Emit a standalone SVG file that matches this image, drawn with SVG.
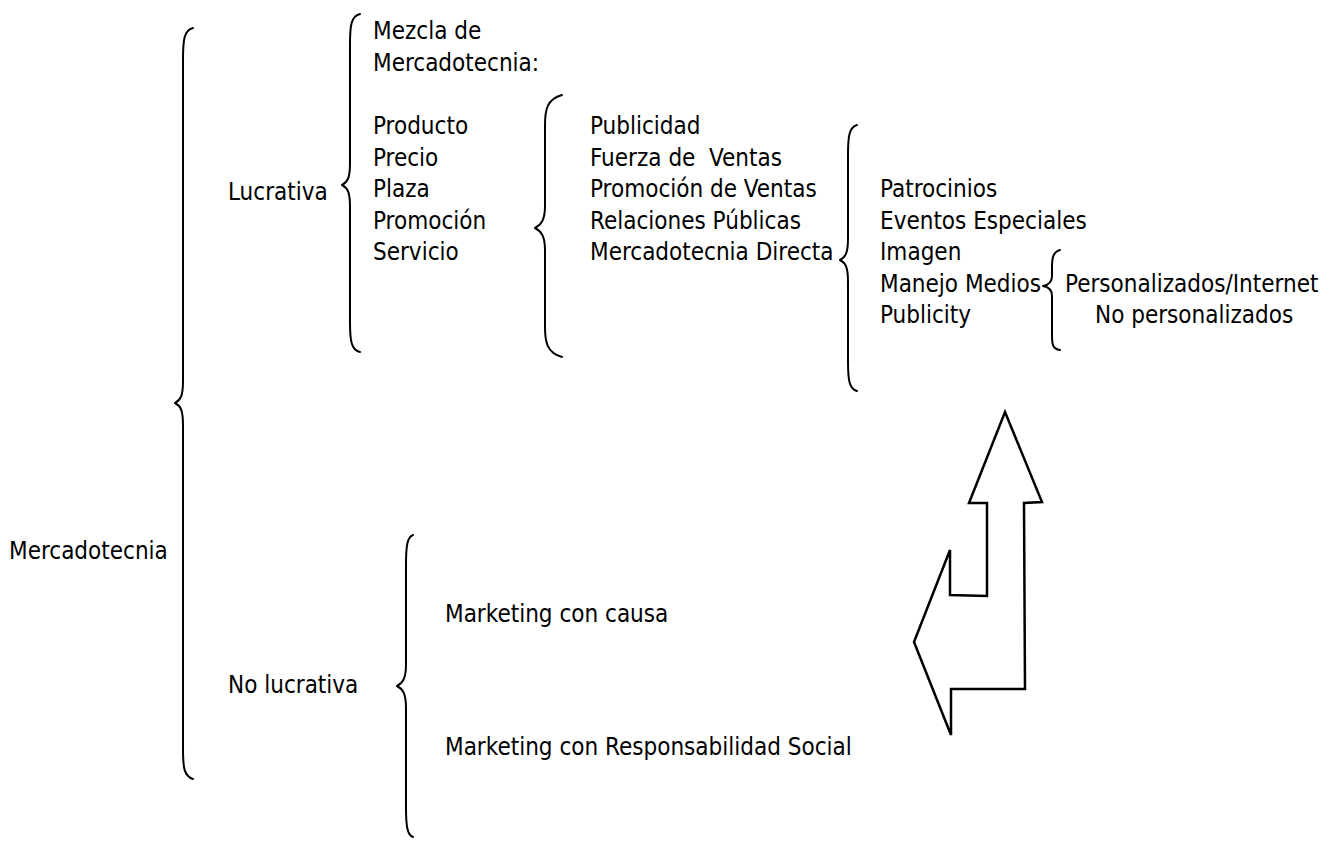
<svg xmlns="http://www.w3.org/2000/svg" width="1330" height="842" viewBox="0 0 1330 842">
<style>
text{font-family:"DejaVu Sans Condensed","DejaVu Sans",sans-serif;font-size:24px;fill:#000;white-space:pre}
.br{fill:none;stroke:#000;stroke-width:2;stroke-linecap:round;stroke-linejoin:round}
.arr{fill:#fff;stroke:#000;stroke-width:2.5;stroke-linejoin:miter}
</style>
<rect width="1330" height="842" fill="#fff"/>
<g id="connectors">
<path id="brace-mercadotecnia" class="br" d="M193,28 C184,30 183,40 183,60 L183,381 C183,395 181,400 175,403 C181,406 183,411 183,425 L183,748 C183,768 184,776 193,779"/>
<path id="brace-lucrativa" class="br" d="M360,14 C351,16 350,26 350,44 L350,163 C350,177 348,182 342,185 C348,188 350,193 350,207 L350,322 C350,340 351,350 360,352"/>
<path id="brace-mezcla" class="br" d="M562,95 C547,99 545,110 545,125 L545,206 C545,220 541,225 535,228 C541,231 545,236 545,250 L545,327 C545,342 547,353 562,357"/>
<path id="brace-comunicacion" class="br" d="M857,125 C849,127 848,137 848,155 L848,238 C848,252 846,257 840,260 C846,263 848,268 848,282 L848,361 C848,379 849,389 857,391"/>
<path id="brace-medios" class="br" d="M1060,250 C1053,252 1052,258 1052,267 L1052,276 C1052,282 1049,285 1043,286 C1049,287 1052,290 1052,296 L1052,336 C1052,345 1053,349 1060,350"/>
<path id="brace-nolucrativa" class="br" d="M413,535 C407,537 406,547 406,565 L406,664 C406,678 403,683 397,686 C403,689 406,694 406,708 L406,807 C406,825 407,835 413,837"/>
</g>
<g id="node-mercadotecnia"><text x="9" y="559">Mercadotecnia</text></g>
<g id="node-lucrativa"><text x="228" y="200">Lucrativa</text></g>
<g id="node-mezcla">
<text x="373" y="39">Mezcla de</text>
<text x="373" y="71">Mercadotecnia:</text>
<text x="373" y="134">Producto</text>
<text x="373" y="165.5">Precio</text>
<text x="373" y="197">Plaza</text>
<text x="373" y="228.5">Promoción</text>
<text x="373" y="260">Servicio</text>
</g>
<g id="node-promocion">
<text x="590" y="134">Publicidad</text>
<text x="590" y="165.5">Fuerza de  Ventas</text>
<text x="590" y="197">Promoción de Ventas</text>
<text x="590" y="228.5">Relaciones Públicas</text>
<text x="590" y="260">Mercadotecnia Directa</text>
</g>
<g id="node-relaciones">
<text x="880" y="197">Patrocinios</text>
<text x="880" y="228.5">Eventos Especiales</text>
<text x="880" y="260">Imagen</text>
<text x="880" y="291.5">Manejo Medios</text>
<text x="880" y="323">Publicity</text>
</g>
<g id="node-medios">
<text x="1065" y="291.5">Personalizados/Internet</text>
<text x="1095" y="323">No personalizados</text>
</g>
<g id="node-nolucrativa"><text x="228" y="693">No lucrativa</text></g>
<g id="node-marketing">
<text x="445" y="622">Marketing con causa</text>
<text x="445" y="755">Marketing con Responsabilidad Social</text>
</g>
<g id="node-arrow">
<polygon class="arr" points="1005,412 1042,502 1024,503 1025,689 951,689 951,735 914,642 950,550 950,595 987,596 987,503 969,503"/>
</g>
</svg>
